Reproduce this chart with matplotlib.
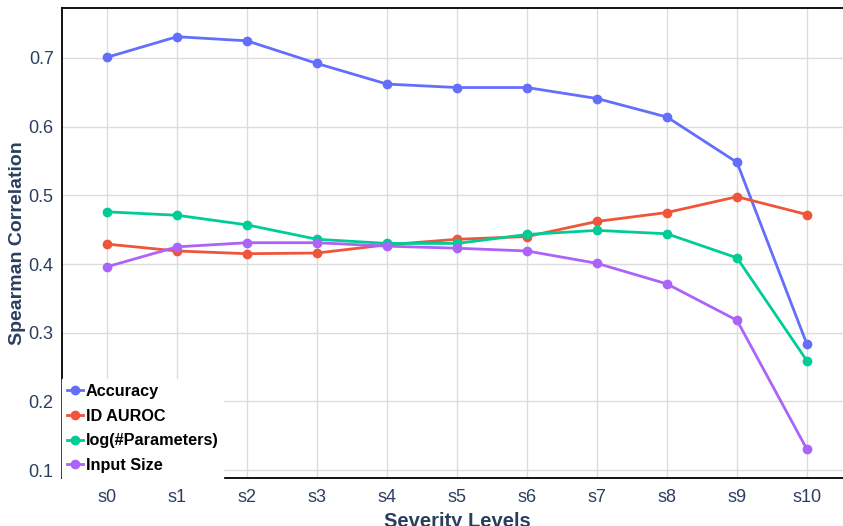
import matplotlib.pyplot as plt
import numpy as np

levels = ['s0', 's1', 's2', 's3', 's4', 's5', 's6', 's7', 's8', 's9', 's10']
accuracy = [0.701, 0.731, 0.725, 0.692, 0.662, 0.657, 0.657, 0.641, 0.614, 0.548, 0.283]
id_auroc = [0.429, 0.419, 0.415, 0.416, 0.428, 0.436, 0.440, 0.462, 0.475, 0.498, 0.472]
log_params = [0.476, 0.471, 0.457, 0.436, 0.430, 0.430, 0.443, 0.449, 0.444, 0.409, 0.259]
input_size = [0.396, 0.425, 0.431, 0.431, 0.426, 0.423, 0.419, 0.401, 0.371, 0.318, 0.130]

series = [
    ('Accuracy', accuracy, '#636efa'),
    ('ID AUROC', id_auroc, '#EF553B'),
    ('log(#Parameters)', log_params, '#00cc96'),
    ('Input Size', input_size, '#ab63fa'),
]

plt.rcParams['font.family'] = ['Liberation Sans', 'DejaVu Sans']

fig = plt.figure(figsize=(8.43, 5.26), dpi=100)
# plot area runs a little past the right edge of the image
ax = fig.add_axes([62 / 843, 1 - 478 / 526, (852 - 62) / 843, (478 - 8) / 526])

x = np.arange(len(levels))
for name, vals, col in series:
    ax.plot(x, vals, color=col, lw=2.0, marker='o', ms=6, label=name, zorder=3)

ax.set_xlim(-0.643, 10.643)
ax.set_ylim(0.0884, 0.7728)
ax.set_xticks(x)
ax.set_xticklabels(levels)
ax.set_yticks([0.1, 0.2, 0.3, 0.4, 0.5, 0.6, 0.7])
ax.set_yticklabels(['0.1', '0.2', '0.3', '0.4', '0.5', '0.6', '0.7'])
ax.grid(True, color='#dcdcdc', lw=1.0)
ax.set_axisbelow(True)

for s in ['left', 'top', 'bottom']:
    ax.spines[s].set_color('black')
    ax.spines[s].set_linewidth(1.3)
ax.spines['right'].set_visible(False)

ax.tick_params(length=0, pad=8, labelsize=13, labelcolor='#2a3f5f')
ax.tick_params(axis='y', pad=6)
ax.set_ylabel('Spearman Correlation', fontsize=14, fontweight='bold', color='#2a3f5f')
ax.set_xlabel('Severity Levels', fontsize=14.5, fontweight='bold', color='#2a3f5f')
ax.yaxis.set_label_coords(-0.0563, 0.5)
ax.xaxis.set_label_coords(0.5, -0.092)
ax.yaxis.label.set_va('center')
ax.xaxis.label.set_va('center')

leg = ax.legend(loc='lower left', frameon=True, fancybox=False, borderaxespad=0,
                handlelength=1.0, handletextpad=0.15, labelspacing=0.6,
                borderpad=0.3, prop={'size': 11.7, 'weight': 'bold'})
leg.get_frame().set_edgecolor('white')
leg.get_frame().set_facecolor('white')
leg.get_frame().set_alpha(1.0)
leg.set_zorder(5)

fig.savefig('out.png', dpi=100)
